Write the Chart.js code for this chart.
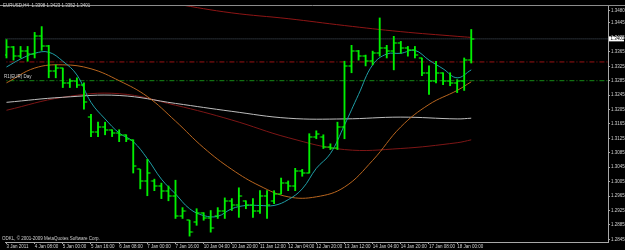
<!DOCTYPE html>
<html>
<head>
<meta charset="utf-8">
<script src="https://cdn.jsdelivr.net/npm/chart.js@4.4.1/dist/chart.umd.min.js"></script>
<style>
  html, body { margin: 0; padding: 0; background: #000; }
  canvas { display: block; }
</style>
</head>
<body>
<canvas id="priceChart" width="625" height="250"></canvas>
<script>
// header / labels
const symbolName = 'EURUSD,H4';
const headerOhlc = [1.3398, 1.3423, 1.3352, 1.3401];
const levelLabel = 'R1(EUR) Day';
const copyrightText = 'ODKL, \u00a9 2001-2009 MetaQuotes Software Corp.';

// x axis: one label every 4 bars
const tickLabels = ['3 Jan 2011', '4 Jan 08:00', '5 Jan 00:00', '5 Jan 16:00', '6 Jan 08:00', '7 Jan 00:00',
    '7 Jan 16:00', '10 Jan 04:00', '10 Jan 20:00', '11 Jan 12:00', '12 Jan 04:00', '12 Jan 20:00',
    '13 Jan 12:00', '14 Jan 04:00', '14 Jan 20:00', '17 Jan 08:00', '18 Jan 00:00'];
const barsPerLabel = 4;

// y axis price labels
const yTickValues = [1.3480, 1.3445, 1.3405, 1.3365, 1.3325, 1.3285, 1.3245, 1.3205, 1.3165, 1.3125,
    1.3085, 1.3045, 1.3005, 1.2965, 1.2925, 1.2885, 1.2845];

// H4 bars
const barOpen = [1.3356, 1.3378, 1.3353, 1.3367, 1.3359, 1.3408, 1.3380, 1.3312, 1.3320, 1.3279,
    1.3285, 1.3274, 1.3184, 1.3143, 1.3157, 1.3149, 1.3140, 1.3135, 1.3121, 1.3039,
    1.3007, 1.3007, 1.2993, 1.2980, 1.2966, 1.2911, 1.2898, 1.2892, 1.2919, 1.2903,
    1.2909, 1.2925, 1.2952, 1.2939, 1.2952, 1.2941, 1.2925, 1.2966, 1.2952, 1.2971,
    1.3001, 1.2993, 1.3034, 1.3029, 1.3130, 1.3130, 1.3102, 1.3099, 1.3157, 1.3326,
    1.3367, 1.3353, 1.3339, 1.3361, 1.3375, 1.3367, 1.3389, 1.3375, 1.3369, 1.3348,
    1.3307, 1.3285, 1.3307, 1.3285, 1.3279, 1.3285, 1.3342];
const barHigh = [1.3399, 1.3380, 1.3380, 1.3380, 1.3419, 1.3435, 1.3383, 1.3329, 1.3320, 1.3290,
    1.3293, 1.3279, 1.3192, 1.3170, 1.3170, 1.3149, 1.3149, 1.3135, 1.3121, 1.3039,
    1.3067, 1.3012, 1.3001, 1.2993, 1.3009, 1.2933, 1.2898, 1.2930, 1.2919, 1.2925,
    1.2933, 1.2960, 1.2958, 1.2988, 1.2952, 1.2958, 1.2980, 1.2980, 1.2980, 1.3015,
    1.3007, 1.3042, 1.3039, 1.3138, 1.3146, 1.3135, 1.3110, 1.3170, 1.3339, 1.3383,
    1.3369, 1.3356, 1.3367, 1.3459, 1.3383, 1.3408, 1.3394, 1.3380, 1.3380, 1.3348,
    1.3326, 1.3339, 1.3307, 1.3307, 1.3288, 1.3348, 1.3427];
const barLow = [1.3348, 1.3342, 1.3348, 1.3339, 1.3348, 1.3369, 1.3293, 1.3293, 1.3266, 1.3266,
    1.3266, 1.3206, 1.3130, 1.3130, 1.3135, 1.3130, 1.3116, 1.3116, 1.3029, 1.2985,
    1.2966, 1.2980, 1.2958, 1.2952, 1.2903, 1.2903, 1.2854, 1.2884, 1.2898, 1.2865,
    1.2903, 1.2903, 1.2925, 1.2906, 1.2930, 1.2906, 1.2917, 1.2903, 1.2944, 1.2971,
    1.2980, 1.2980, 1.3020, 1.3029, 1.3124, 1.3097, 1.3094, 1.3094, 1.3124, 1.3307,
    1.3342, 1.3326, 1.3329, 1.3353, 1.3348, 1.3315, 1.3361, 1.3353, 1.3348, 1.3299,
    1.3247, 1.3279, 1.3274, 1.3271, 1.3252, 1.3258, 1.3334];
const barClose = [1.3378, 1.3353, 1.3367, 1.3359, 1.3408, 1.3380, 1.3312, 1.3320, 1.3279, 1.3285,
    1.3274, 1.3225, 1.3143, 1.3157, 1.3149, 1.3140, 1.3135, 1.3124, 1.3048, 1.3007,
    1.3029, 1.2993, 1.2980, 1.2966, 1.2911, 1.2925, 1.2865, 1.2919, 1.2903, 1.2876,
    1.2925, 1.2952, 1.2939, 1.2966, 1.2941, 1.2925, 1.2966, 1.2939, 1.2971, 1.3001,
    1.2993, 1.3034, 1.3029, 1.3130, 1.3138, 1.3102, 1.3099, 1.3157, 1.3326, 1.3367,
    1.3353, 1.3339, 1.3361, 1.3375, 1.3367, 1.3389, 1.3375, 1.3369, 1.3356, 1.3307,
    1.3285, 1.3307, 1.3285, 1.3279, 1.3285, 1.3342, 1.3401];

// moving averages, read at the listed bars
const maFastBars = [0, 2, 4, 6, 8, 10, 12, 14, 16, 18, 20, 22, 24, 26, 28, 30, 32, 34, 36, 38,
    40, 42, 44, 46, 48, 50, 52, 54, 56, 58, 60, 62, 64, 66];
const maFast = [1.3323, 1.3345, 1.3361, 1.3364, 1.3339, 1.3301, 1.3225, 1.3179, 1.3140, 1.3116,
    1.3069, 1.3012, 1.2971, 1.2930, 1.2911, 1.2909, 1.2930, 1.2939, 1.2939, 1.2939,
    1.2955, 1.2985, 1.3042, 1.3083, 1.3162, 1.3247, 1.3329, 1.3359, 1.3361, 1.3369,
    1.3342, 1.3318, 1.3293, 1.3315];
const maMidBars = [0, 4, 8, 12, 16, 20, 24, 28, 32, 36, 40, 44, 48, 52, 56, 60, 64, 66];
const maMid = [1.3279, 1.3320, 1.3329, 1.3318, 1.3285, 1.3241, 1.3173, 1.3099, 1.3039, 1.2993,
    1.2963, 1.2963, 1.2990, 1.3064, 1.3157, 1.3219, 1.3258, 1.3282];
const maSlowBars = [0, 8, 16, 24, 32, 40, 48, 56, 64, 66];
const maSlowGray = [1.3225, 1.3239, 1.3244, 1.3222, 1.3200, 1.3181, 1.3179, 1.3184, 1.3179, 1.3181];
const maSlowRed = [1.3203, 1.3239, 1.3249, 1.3217, 1.3176, 1.3127, 1.3094, 1.3097, 1.3113, 1.3121];
const maLongBars = [22, 24, 32, 40, 48, 56, 64, 66];
const maLong = [1.3506, 1.3498, 1.3473, 1.3457, 1.3438, 1.3421, 1.3408, 1.3405];

// horizontal levels
const bidPrice = 1.3401;
const levelRed = 1.3337;
const levelGreen = 1.3285;

const barColor = '#00f000';
const axisColor = '#a8a8a8';
const textColor = '#d0d0d0';
const tinyFont = { family: 'Liberation Sans', size: 4.5 };

// small canvas used as point style for the open (left) and close (right) ticks
function makeTick(side) {
    const c = document.createElement('canvas');
    c.width = 8;
    c.height = 2;
    const g = c.getContext('2d');
    g.fillStyle = barColor;
    g.fillRect(side === 'left' ? 0.8 : 4, 0.4, 3.2, 1.2);
    return c;
}

function toPoints(bars, values) {
    return values.map((v, k) => ({ x: bars[k], y: v }));
}

function levelLine(price, color, dash) {
    return {
        type: 'line',
        data: [{ x: -1, y: price }, { x: 90, y: price }],
        borderColor: color,
        borderWidth: 1,
        borderDash: dash,
        pointRadius: 0,
        order: 3
    };
}

function maLine(bars, values, color) {
    return {
        type: 'line',
        data: toPoints(bars, values),
        borderColor: color,
        borderWidth: 1,
        pointRadius: 0,
        tension: 0.4,
        order: 2
    };
}

// background, header text, bid label
const chartDecor = {
    id: 'chartDecor',
    beforeDraw(chart) {
        const ctx = chart.ctx;
        ctx.save();
        ctx.fillStyle = '#000000';
        ctx.fillRect(0, 0, chart.width, chart.height);
        ctx.restore();
    },
    afterDraw(chart) {
        const ctx = chart.ctx;
        const area = chart.chartArea;
        const yScale = chart.scales.y;
        ctx.save();
        ctx.strokeStyle = '#8c8c8c';
        ctx.lineWidth = 1;
        ctx.beginPath();
        ctx.moveTo(0, area.top + 0.5);
        ctx.lineTo(chart.width, area.top + 0.5);
        ctx.stroke();

        ctx.font = '4.5px "Liberation Sans"';
        ctx.textBaseline = 'middle';
        ctx.fillStyle = textColor;
        ctx.fillText(symbolName + '  ' + headerOhlc.map(v => v.toFixed(4)).join(' '), 3, 5.5);
        ctx.fillText(levelLabel, 4, yScale.getPixelForValue(levelGreen) - 3.5);
        ctx.fillText(copyrightText, 2, area.bottom - 3.5);

        // current price box on the price scale
        const yBid = yScale.getPixelForValue(bidPrice);
        ctx.fillStyle = '#ffffff';
        ctx.fillRect(area.right + 1, yBid - 2.5, 15, 5);
        ctx.fillStyle = '#000000';
        ctx.fillText(bidPrice.toFixed(4), area.right + 2.5, yBid);
        ctx.restore();
    }
};

const ctx = document.getElementById('priceChart').getContext('2d');
new Chart(ctx, {
    type: 'bar',
    data: {
        datasets: [
            {
                type: 'bar',
                data: barLow.map((lo, i) => ({ x: i, y: [lo, barHigh[i]] })),
                backgroundColor: barColor,
                borderWidth: 0,
                barThickness: 1.2,
                order: 0
            },
            {
                type: 'scatter',
                data: barOpen.map((v, i) => ({ x: i, y: v })),
                pointStyle: makeTick('left'),
                pointRadius: 3,
                order: 0
            },
            {
                type: 'scatter',
                data: barClose.map((v, i) => ({ x: i, y: v })),
                pointStyle: makeTick('right'),
                pointRadius: 3,
                order: 0
            },
            maLine(maFastBars, maFast, '#1f9ea6'),
            maLine(maMidBars, maMid, '#b8651e'),
            maLine(maSlowBars, maSlowGray, '#bdbdbd'),
            maLine(maSlowBars, maSlowRed, '#7d1616'),
            maLine(maLongBars, maLong, '#8e1515'),
            levelLine(bidPrice, '#4c5866', [1, 1]),
            levelLine(levelRed, '#9a1212', [5, 2, 1, 2]),
            levelLine(levelGreen, '#168a16', [5, 2, 1, 2])
        ]
    },
    options: {
        responsive: false,
        animation: false,
        events: [],
        layout: { padding: { top: 1, left: 0, right: 0, bottom: 0 } },
        plugins: {
            legend: { display: false },
            tooltip: { enabled: false }
        },
        scales: {
            x: {
                type: 'linear',
                position: 'bottom',
                min: -0.211,
                max: 85.42,
                offset: false,
                grid: { drawOnChartArea: false, color: axisColor, tickLength: 2, offset: false },
                border: { color: axisColor },
                ticks: {
                    color: textColor,
                    font: tinyFont,
                    align: 'start',
                    padding: 0,
                    autoSkip: false,
                    maxRotation: 0,
                    callback: (v) => tickLabels[Math.round(v / barsPerLabel)]
                },
                afterBuildTicks: (axis) => {
                    axis.ticks = tickLabels.map((t, k) => ({ value: k * barsPerLabel }));
                },
                afterFit: (axis) => {
                    axis.height = 8;
                    axis.paddingLeft = 0;
                    axis.paddingRight = 0;
                }
            },
            y: {
                type: 'linear',
                position: 'right',
                min: 1.28377,
                max: 1.34949,
                grid: { drawOnChartArea: false, color: axisColor, tickLength: 2 },
                border: { color: axisColor },
                ticks: {
                    color: textColor,
                    font: tinyFont,
                    padding: 1,
                    autoSkip: false,
                    callback: (v) => v.toFixed(4)
                },
                afterBuildTicks: (axis) => {
                    axis.ticks = yTickValues.map(v => ({ value: v }));
                },
                afterFit: (axis) => {
                    axis.width = 17;
                    axis.paddingTop = 0;
                    axis.paddingBottom = 0;
                }
            }
        }
    },
    plugins: [chartDecor]
});
</script>
</body>
</html>
